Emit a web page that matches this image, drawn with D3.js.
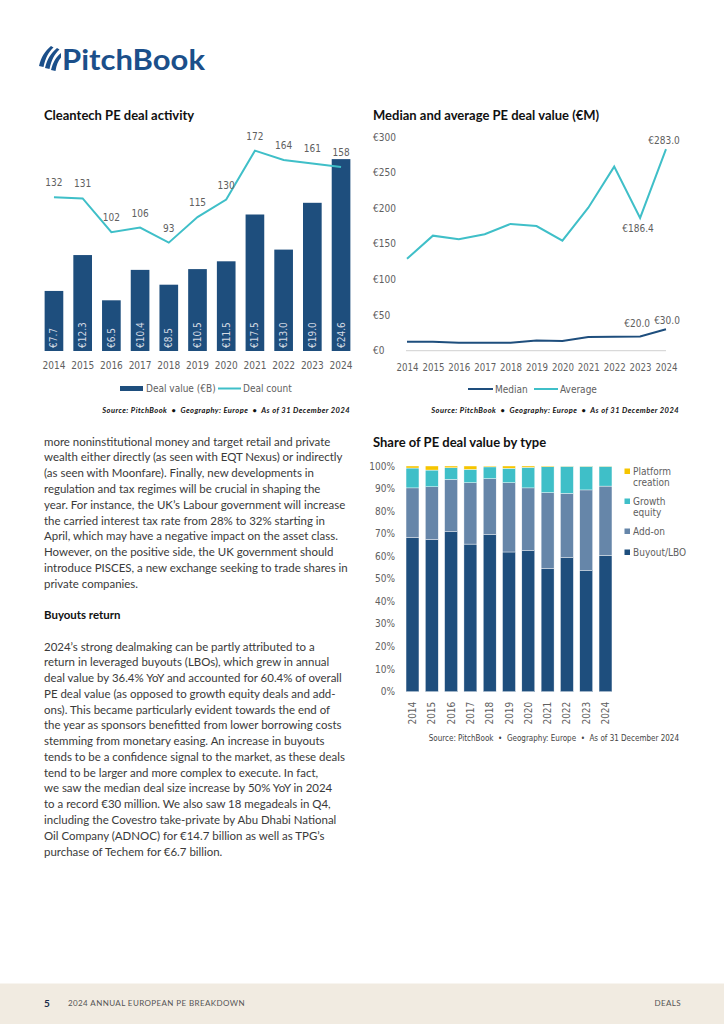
<!DOCTYPE html>
<html>
<head>
<meta charset="utf-8">
<script src="https://cdn.jsdelivr.net/npm/d3@7"></script>
<style>
  body { margin: 0; background: #fff; }
  svg { display: block; }
</style>
</head>
<body>
<div id="page"></div>
<script>
// ---- data ----
const years = [2014, 2015, 2016, 2017, 2018, 2019, 2020, 2021, 2022, 2023, 2024];

// Cleantech PE deal activity
const dealValue = [7.7, 12.3, 6.5, 10.4, 8.5, 10.5, 11.5, 17.5, 13.0, 19.0, 24.6];
const dealCount = [132, 131, 102, 106, 93, 115, 130, 172, 164, 161, 158];

// Median and average PE deal value (EUR M)
const medianValue = [12.5, 12.5, 11.2, 11.2, 11.3, 14.2, 13.6, 19.2, 19.5, 20.0, 30.0];
const averageValue = [129, 161.5, 156.5, 163.5, 178, 175, 154.5, 200.8, 258.4, 186.4, 283.0];
const valueTicks = [0, 50, 100, 150, 200, 250, 300];
const medianLabelIdx = [9, 10];
const averageLabelIdx = [9, 10];

// Share of PE deal value by type (%)
const dealTypes = ["Buyout/LBO", "Add-on", "Growth equity", "Platform creation"];
const buyoutShare = [68.4, 67.4, 70.9, 65.4, 69.6, 61.9, 62.5, 54.7, 59.4, 53.6, 60.4];
const addonShare = [21.9, 23.4, 23.2, 27.2, 24.8, 30.7, 27.8, 33.5, 28.5, 35.8, 30.7];
const growthShare = [8.8, 7.4, 5.1, 5.9, 5.2, 6.4, 9.1, 11.5, 12.0, 10.5, 8.8];
const platformShare = [0.9, 1.8, 0.8, 1.5, 0.4, 1.0, 0.6, 0.3, 0.1, 0.1, 0.1];
const shareTicks = [0, 10, 20, 30, 40, 50, 60, 70, 80, 90, 100];

const sourceText = "Source: PitchBook  \u2022  Geography: Europe  \u2022  As of 31 December 2024";

const bodyLines1 = [
  "more noninstitutional money and target retail and private",
  "wealth either directly (as seen with EQT Nexus) or indirectly",
  "(as seen with Moonfare). Finally, new developments in",
  "regulation and tax regimes will be crucial in shaping the",
  "year. For instance, the UK\u2019s Labour government will increase",
  "the carried interest tax rate from 28% to 32% starting in",
  "April, which may have a negative impact on the asset class.",
  "However, on the positive side, the UK government should",
  "introduce PISCES, a new exchange seeking to trade shares in",
  "private companies."
];
const bodyHeading = "Buyouts return";
const bodyLines2 = [
  "2024\u2019s strong dealmaking can be partly attributed to a",
  "return in leveraged buyouts (LBOs), which grew in annual",
  "deal value by 36.4% YoY and accounted for 60.4% of overall",
  "PE deal value (as opposed to growth equity deals and add-",
  "ons). This became particularly evident towards the end of",
  "the year as sponsors benefitted from lower borrowing costs",
  "stemming from monetary easing. An increase in buyouts",
  "tends to be a confidence signal to the market, as these deals",
  "tend to be larger and more complex to execute. In fact,",
  "we saw the median deal size increase by 50% YoY in 2024",
  "to a record \u20ac30 million. We also saw 18 megadeals in Q4,",
  "including the Covestro take-private by Abu Dhabi National",
  "Oil Company (ADNOC) for \u20ac14.7 billion as well as TPG\u2019s",
  "purchase of Techem for \u20ac6.7 billion."
];

// ---- styles ----
const navy = "#1e4e7d";
const slate = "#6686a9";
const teal = "#3fbfc8";
const yellow = "#f6c500";
const inkText = "#3a3a3a";
const axisText = "#606060";
const chartFont = "'Liberation Sans Narrow', 'DejaVu Sans Condensed', Roboto, sans-serif";
const titleFont = "Lato, 'Open Sans', sans-serif";
const bodyFont = "Lato, 'Open Sans', sans-serif";
const euro = d => "\u20ac" + d;

const svg = d3.select("#page").append("svg")
    .attr("width", 724)
    .attr("height", 1024);

svg.append("rect").attr("width", 724).attr("height", 1024).attr("fill", "#fff");

// ---- logo ----
const logo = svg.append("g").attr("fill", "#1b4f8a");
logo.append("path").attr("d", "M39,66 C41,57 45,51 51,46 L53.5,47.5 C48.5,52 45.5,58 43.5,67 Z");
logo.append("path").attr("d", "M45,68 C47,59 51,53 57,48 L59.5,49.5 C54.5,54 51.5,60 49.5,69 Z");
logo.append("path").attr("d", "M51,70 C53,62 56,57 61,53 L61,57.5 C58,61 56.5,65 55.5,71 Z");
logo.append("text")
    .attr("x", 62).attr("y", 70)
    .attr("font-family", titleFont)
    .attr("font-weight", 700)
    .attr("font-size", 29)
    .attr("textLength", 143)
    .attr("lengthAdjust", "spacingAndGlyphs")
    .text("PitchBook");

function title(x, y, t) {
  svg.append("text")
      .attr("x", x).attr("y", y)
      .attr("font-family", titleFont)
      .attr("font-weight", 700)
      .attr("font-size", 13)
      .attr("fill", "#111")
      .text(t);
}

function source(xRight, y, bold) {
  svg.append("text")
      .attr("x", xRight).attr("y", y)
      .attr("text-anchor", "end")
      .attr("font-family", bold ? "Lato, sans-serif" : chartFont)
      .attr("font-weight", bold ? 700 : 400)
      .attr("font-style", bold ? "italic" : "normal")
      .attr("font-size", bold ? 7.5 : 8)
      .attr("letter-spacing", bold ? 0.45 : 0)
      .attr("fill", bold ? "#111" : "#444")
      .attr("xml:space", "preserve")
      .text(sourceText);
}

// ---- chart 1: Cleantech PE deal activity ----
title(44, 120, "Cleantech PE deal activity");

const x1 = d3.scaleBand().domain(years).range([39.6, 355.4]).paddingInner(0.35).paddingOuter(0.175);
const yBar = d3.scaleLinear().domain([0, 30]).range([351, 117]);
const yCount = d3.scaleLinear().domain([0, 200]).range([351, 118]);

const c1 = svg.append("g");
c1.selectAll("rect.bar")
  .data(dealValue)
  .join("rect")
    .attr("class", "bar")
    .attr("x", (d, i) => x1(years[i]))
    .attr("y", d => yBar(d))
    .attr("width", x1.bandwidth())
    .attr("height", d => yBar(0) - yBar(d))
    .attr("fill", navy);

c1.selectAll("text.barlabel")
  .data(dealValue)
  .join("text")
    .attr("class", "barlabel")
    .attr("transform", (d, i) => `translate(${x1(years[i]) + x1.bandwidth() / 2 + 3.5},${yBar(0) - 3}) rotate(-90)`)
    .attr("font-family", chartFont)
    .attr("font-size", 10)
    .attr("fill", "#d5dbe4")
    .text(d => euro(d.toFixed(1)));

const countLine = d3.line()
    .x((d, i) => x1(years[i]) + x1.bandwidth() / 2)
    .y(d => yCount(d));

c1.append("path")
    .datum(dealCount)
    .attr("d", countLine)
    .attr("fill", "none")
    .attr("stroke", teal)
    .attr("stroke-width", 2);

c1.selectAll("text.countlabel")
  .data(dealCount)
  .join("text")
    .attr("class", "countlabel")
    .attr("x", (d, i) => x1(years[i]) + x1.bandwidth() / 2)
    .attr("y", d => yCount(d) - 11)
    .attr("text-anchor", "middle")
    .attr("font-family", chartFont)
    .attr("font-size", 10)
    .attr("fill", axisText)
    .text(d => d);

const ax1 = c1.append("g")
    .attr("transform", `translate(0,${yBar(0)})`)
    .call(d3.axisBottom(x1).tickSize(0).tickPadding(11));
ax1.select(".domain").remove();
ax1.selectAll("text").attr("font-family", chartFont).attr("font-size", 10).attr("fill", axisText);

// legend 1
c1.append("rect").attr("x", 120).attr("y", 386).attr("width", 23).attr("height", 5).attr("fill", navy);
c1.append("text").attr("x", 146).attr("y", 392).attr("font-family", chartFont).attr("font-size", 10).attr("fill", axisText).text("Deal value (\u20acB)");
c1.append("line").attr("x1", 218).attr("x2", 241).attr("y1", 388.5).attr("y2", 388.5).attr("stroke", teal).attr("stroke-width", 2);
c1.append("text").attr("x", 243).attr("y", 392).attr("font-family", chartFont).attr("font-size", 10).attr("fill", axisText).text("Deal count");

source(350, 413, true);

// ---- chart 2: Median and average PE deal value ----
title(373, 120, "Median and average PE deal value (\u20acM)");

const x2 = d3.scalePoint().domain(years).range([407, 666]);
const y2 = d3.scaleLinear().domain([0, 300]).range([350.7, 137]);
const c2 = svg.append("g");

c2.append("line")
    .attr("x1", 406).attr("x2", 666)
    .attr("y1", y2(0)).attr("y2", y2(0))
    .attr("stroke", "#d0d0d0").attr("stroke-width", 1);

c2.selectAll("text.ytick")
  .data(valueTicks)
  .join("text")
    .attr("class", "ytick")
    .attr("x", 373)
    .attr("y", d => y2(d) + 3.5)
    .attr("font-family", chartFont)
    .attr("font-size", 10)
    .attr("fill", axisText)
    .text(d => euro(d));

const ax2 = c2.append("g")
    .attr("transform", `translate(0,${y2(0)})`)
    .call(d3.axisBottom(x2).tickSize(0).tickPadding(13));
ax2.select(".domain").remove();
ax2.selectAll("text").attr("font-family", chartFont).attr("font-size", 9.6).attr("fill", axisText);

const line2 = d3.line().x((d, i) => x2(years[i])).y(d => y2(d));
c2.append("path").datum(averageValue).attr("d", line2)
    .attr("fill", "none").attr("stroke", teal).attr("stroke-width", 2);
c2.append("path").datum(medianValue).attr("d", line2)
    .attr("fill", "none").attr("stroke", navy).attr("stroke-width", 2);

c2.selectAll("text.avglabel")
  .data(averageLabelIdx)
  .join("text")
    .attr("class", "avglabel")
    .attr("x", i => x2(years[i]) - 2)
    .attr("y", (i, k) => k === 0 ? y2(averageValue[i]) + 14 : y2(averageValue[i]) - 5)
    .attr("text-anchor", "middle")
    .attr("font-family", chartFont)
    .attr("font-size", 10)
    .attr("fill", axisText)
    .text(i => euro(averageValue[i].toFixed(1)));

c2.selectAll("text.medlabel")
  .data(medianLabelIdx)
  .join("text")
    .attr("class", "medlabel")
    .attr("x", (i, k) => k === 0 ? x2(years[i]) - 3 : x2(years[i]) + 1)
    .attr("y", (i, k) => k === 0 ? y2(medianValue[i]) - 9 : y2(medianValue[i]) - 5)
    .attr("text-anchor", "middle")
    .attr("font-family", chartFont)
    .attr("font-size", 10)
    .attr("fill", axisText)
    .text(i => euro(medianValue[i].toFixed(1)));

// legend 2
c2.append("line").attr("x1", 468).attr("x2", 493).attr("y1", 389).attr("y2", 389).attr("stroke", navy).attr("stroke-width", 2);
c2.append("text").attr("x", 495).attr("y", 392.5).attr("font-family", chartFont).attr("font-size", 10).attr("fill", axisText).text("Median");
c2.append("line").attr("x1", 534).attr("x2", 558).attr("y1", 389).attr("y2", 389).attr("stroke", teal).attr("stroke-width", 2);
c2.append("text").attr("x", 560).attr("y", 392.5).attr("font-family", chartFont).attr("font-size", 10).attr("fill", axisText).text("Average");

source(679, 413, true);

// ---- chart 3: Share of PE deal value by type ----
title(373, 447, "Share of PE deal value by type");

const shareRows = years.map((yr, i) => ({
  year: yr,
  "Buyout/LBO": buyoutShare[i],
  "Add-on": addonShare[i],
  "Growth equity": growthShare[i],
  "Platform creation": platformShare[i]
}));
const stacked = d3.stack().keys(dealTypes)(shareRows);
const typeColor = d3.scaleOrdinal().domain(dealTypes).range([navy, slate, teal, yellow]);

const x3 = d3.scaleBand().domain(years).range([402.85, 615.15]).paddingInner(0.33).paddingOuter(0.165);
const y3 = d3.scaleLinear().domain([0, 100]).range([691.7, 466]);
const c3 = svg.append("g");

c3.selectAll("text.ytick")
  .data(shareTicks)
  .join("text")
    .attr("class", "ytick")
    .attr("x", 395)
    .attr("y", d => y3(d) + 3.5)
    .attr("text-anchor", "end")
    .attr("font-family", chartFont)
    .attr("font-size", 10)
    .attr("fill", axisText)
    .text(d => d + "%");

c3.selectAll("g.layer")
  .data(stacked)
  .join("g")
    .attr("class", "layer")
    .attr("fill", d => typeColor(d.key))
  .selectAll("rect")
  .data(d => d)
  .join("rect")
    .attr("x", d => x3(d.data.year))
    .attr("y", d => y3(d[1]))
    .attr("width", x3.bandwidth())
    .attr("height", d => y3(d[0]) - y3(d[1]))
    .attr("stroke", "#fff")
    .attr("stroke-width", 0.4);

c3.selectAll("text.xtick")
  .data(years)
  .join("text")
    .attr("class", "xtick")
    .attr("transform", d => `translate(${x3(d) + x3.bandwidth() / 2 + 3.5},${y3(0) + 10}) rotate(-90)`)
    .attr("text-anchor", "end")
    .attr("font-family", chartFont)
    .attr("font-size", 10)
    .attr("fill", axisText)
    .text(d => d);

// legend 3 (top to bottom: platform, growth, add-on, buyout)
const legendRows = [
  { key: "Platform creation", lines: ["Platform", "creation"], y: 471.5 },
  { key: "Growth equity", lines: ["Growth", "equity"], y: 501.5 },
  { key: "Add-on", lines: ["Add-on"], y: 531.5 },
  { key: "Buyout/LBO", lines: ["Buyout/LBO"], y: 552.5 }
];
const lg3 = c3.selectAll("g.leg").data(legendRows).join("g").attr("class", "leg");
lg3.append("rect")
    .attr("x", 624.5).attr("y", d => d.y - 3)
    .attr("width", 5.5).attr("height", 5.5)
    .attr("fill", d => typeColor(d.key));
lg3.each(function(d) {
  d3.select(this).selectAll("text").data(d.lines).join("text")
      .attr("x", 633)
      .attr("y", (t, j) => d.y + 3.5 + j * 10.5)
      .attr("font-family", chartFont)
      .attr("font-size", 10)
      .attr("fill", axisText)
      .text(t => t);
});

source(679, 741, false);

// ---- body text ----
const body = svg.append("g")
    .attr("font-family", bodyFont)
    .attr("fill", inkText);

const block1 = body.selectAll("text.b1").data(bodyLines1).join("text")
    .attr("class", "b1")
    .attr("x", 44)
    .attr("y", (d, i) => 445.5 + i * 15.8)
    .text(d => d);

body.append("text")
    .attr("x", 44).attr("y", 618.5)
    .attr("font-weight", 700)
    .attr("fill", "#111")
    .text(bodyHeading);

const block2 = body.selectAll("text.b2").data(bodyLines2).join("text")
    .attr("class", "b2")
    .attr("x", 44)
    .attr("y", (d, i) => 650.5 + i * 15.77)
    .text(d => d);

// fit the body font so the widest line spans the column (~304px)
body.selectAll("text").attr("font-size", 11);
let widest = 0;
block1.each(function() { widest = Math.max(widest, this.getComputedTextLength()); });
block2.each(function() { widest = Math.max(widest, this.getComputedTextLength()); });
const bodySize = 11 * 304 / widest;
body.selectAll("text").attr("font-size", bodySize);

// ---- footer ----
svg.append("rect").attr("x", 0).attr("y", 983.5).attr("width", 724).attr("height", 40.5).attr("fill", "#f1ebe1");
svg.append("text").attr("x", 44).attr("y", 1006.5)
    .attr("font-family", titleFont).attr("font-weight", 700).attr("font-size", 10).attr("fill", "#1a2b4a").text("5");
svg.append("text").attr("x", 68).attr("y", 1006)
    .attr("font-family", bodyFont).attr("font-size", 8).attr("letter-spacing", 0.4).attr("fill", "#555")
    .text("2024 ANNUAL EUROPEAN PE BREAKDOWN");
svg.append("text").attr("x", 681).attr("y", 1006).attr("text-anchor", "end")
    .attr("font-family", bodyFont).attr("font-size", 8).attr("letter-spacing", 0.4).attr("fill", "#555")
    .text("DEALS");
</script>
</body>
</html>
